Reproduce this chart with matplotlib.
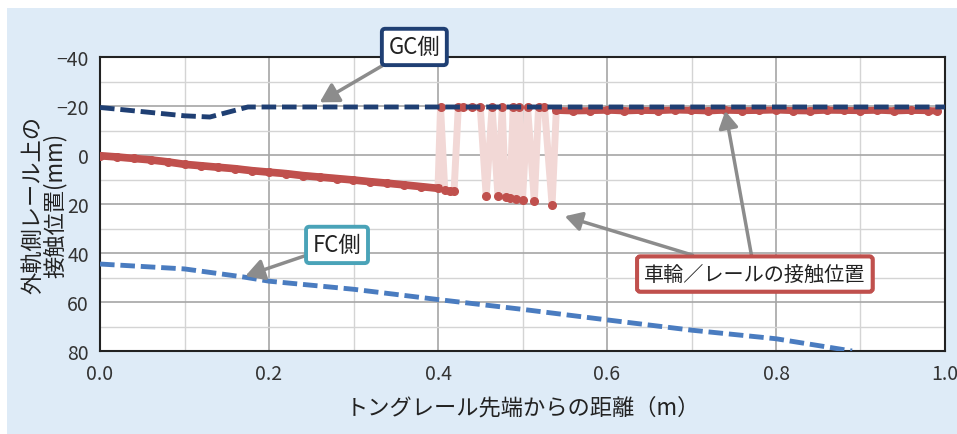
import matplotlib
matplotlib.use("Agg")
import matplotlib.pyplot as plt
from matplotlib.patches import Rectangle
from matplotlib.ticker import MultipleLocator

plt.rcParams['font.family'] = ['Noto Sans CJK JP', 'DejaVu Sans']

# GC side (gauge corner) line
gc_x = [0.0, 0.05, 0.10, 0.13, 0.175, 1.0]
gc_y = [-19.4, -17.7, -16.0, -15.5, -19.6, -19.6]

# FC side line
fc_x = [0.0, 0.10, 0.17, 0.20, 0.30, 0.40, 0.50, 0.60, 0.70, 0.80, 0.89]
fc_y = [44.5, 46.5, 49.8, 51.5, 54.8, 59.0, 63.0, 67.3, 71.5, 75.0, 80.0]

# wheel/rail contact position - steady part before the jumps
red_a_x = [0.00, 0.02, 0.04, 0.06, 0.08, 0.10, 0.12, 0.14, 0.16, 0.18, 0.20,
           0.22, 0.24, 0.26, 0.28, 0.30, 0.32, 0.34, 0.36, 0.38, 0.40]
red_a_y = [0.3, 0.8, 1.4, 2.0, 2.8, 3.8, 4.4, 5.0, 5.6, 6.4, 7.0,
           7.6, 8.4, 9.0, 9.6, 10.2, 10.9, 11.5, 12.2, 12.9, 13.6]

# jumping part
red_b_x = [0.40, 0.403, 0.408, 0.414, 0.419, 0.424, 0.43, 0.44, 0.45, 0.457, 0.464,
           0.471, 0.476, 0.480, 0.485, 0.489, 0.492, 0.496, 0.500, 0.506, 0.514,
           0.519, 0.526, 0.535, 0.540]
red_b_y = [13.6, -19.5, 14.2, 14.6, 14.8, -19.5, -19.5, -19.5, -19.5, 16.7, -19.5,
           16.9, -19.5, 17.2, 17.4, -19.5, 18.0, -19.5, 18.2, -19.5, 18.8,
           -19.5, -19.5, 20.3, -18.2]

# steady part on the GC side after the jumps
red_c_x = [0.54, 0.56, 0.58, 0.60, 0.62, 0.64, 0.66, 0.68, 0.70, 0.72, 0.74,
           0.76, 0.78, 0.80, 0.82, 0.84, 0.86, 0.88, 0.90, 0.92, 0.94, 0.96, 0.98, 0.99]
red_c_y = [-18.2, -18.0, -18.1, -18.3, -18.0, -18.2, -18.1, -18.4, -18.2, -18.0, -18.3,
           -18.1, -18.2, -18.4, -18.1, -18.0, -18.3, -18.2, -18.1, -18.3, -18.0, -18.2, -18.1, -18.0]

x_ticks = [0.0, 0.2, 0.4, 0.6, 0.8, 1.0]
y_ticks = [-40, -20, 0, 20, 40, 60, 80]

red = '#c0504d'
pink = '#f2d8d6'
navy = '#1f3f73'
blue = '#4a7cc0'
grey = '#8c8c8c'

fig = plt.figure(figsize=(9.57, 4.35), dpi=100)
fig.patch.set_facecolor('white')
fig.patches.append(Rectangle((7 / 957, 0), 1, 1 - 9 / 435, transform=fig.transFigure,
                             facecolor='#deebf7', edgecolor='none', zorder=-10))

ax = fig.add_axes([100 / 957, 1 - 352 / 435, 845 / 957, 294 / 435])
ax.set_facecolor('white')

ax.set_xlim(0, 1.0)
ax.set_ylim(80, -40)
ax.set_xticks(x_ticks)
ax.set_yticks(y_ticks)
ax.set_xticklabels([f"{v:.1f}" for v in x_ticks])
ax.set_yticklabels([f"\u2212{abs(v)}" if v < 0 else f"{v}" for v in y_ticks])
ax.xaxis.set_minor_locator(MultipleLocator(0.1))
ax.yaxis.set_minor_locator(MultipleLocator(10))
ax.grid(which='major', color='#a6a6a6', lw=1.2)
ax.grid(which='minor', color='#d4d4d4', lw=1.0)
ax.set_axisbelow(True)
ax.tick_params(which='both', length=0, labelsize=14, colors='#333333')
ax.tick_params(axis='x', pad=9)
ax.tick_params(axis='y', pad=8)
for s in ax.spines.values():
    s.set_color('#222222')
    s.set_linewidth(1.5)

# contact position
all_x = red_a_x + red_b_x[1:] + red_c_x[1:]
all_y = red_a_y + red_b_y[1:] + red_c_y[1:]
ax.plot(all_x, all_y, color=pink, lw=5, zorder=2, solid_capstyle='round')
ax.plot(red_a_x, red_a_y, color=red, lw=5.5, zorder=3)
ax.plot(red_c_x, red_c_y, color=red, lw=5, zorder=3)
ax.plot(all_x, all_y, ls='none', marker='o', ms=5.5, color=red, zorder=3)

ax.plot(gc_x, gc_y, color=navy, lw=3.5, ls=(0, (3, 1.2)), zorder=4)
ax.plot(fc_x, fc_y, color=blue, lw=3.5, ls=(0, (3, 1.2)), zorder=4)

arrow = dict(arrowstyle='-|>,head_length=0.7,head_width=0.4', color=grey, lw=2.5,
             shrinkA=0, shrinkB=0)

ax.annotate("GC側", xy=(0.26, -21.5), xytext=(0.372, -44.1), fontsize=16,
            ha='center', va='center', color='#222222', annotation_clip=False,
            bbox=dict(boxstyle='round,pad=0.3,rounding_size=0.15', fc='white', ec=navy, lw=2.8),
            arrowprops=arrow, zorder=6)
ax.annotate("FC側", xy=(0.172, 49.4), xytext=(0.2805, 36.7), fontsize=16,
            ha='center', va='center', color='#222222',
            bbox=dict(boxstyle='round,pad=0.3,rounding_size=0.15', fc='white', ec='#4aa3b8', lw=2.8),
            arrowprops=arrow, zorder=6)
for tip in [(0.74, -18.0), (0.55, 25.0)]:
    ax.annotate("車輪／レールの接触位置", xy=tip, xytext=(0.775, 48.6), fontsize=14.5,
                ha='center', va='center', color='#222222',
                bbox=dict(boxstyle='round,pad=0.35,rounding_size=0.15', fc='white', ec=red, lw=2.8),
                arrowprops=arrow, zorder=6)

ax.set_xlabel("トングレール先端からの距離（m）", fontsize=16, color='#222222', labelpad=8)
ax.set_ylabel("外軌側レール上の\n接触位置(mm)", fontsize=16, color='#222222',
              linespacing=0.95)
ax.yaxis.set_label_coords(-0.039, 0.5)

fig.savefig("out.png", dpi=100, facecolor=fig.get_facecolor())
